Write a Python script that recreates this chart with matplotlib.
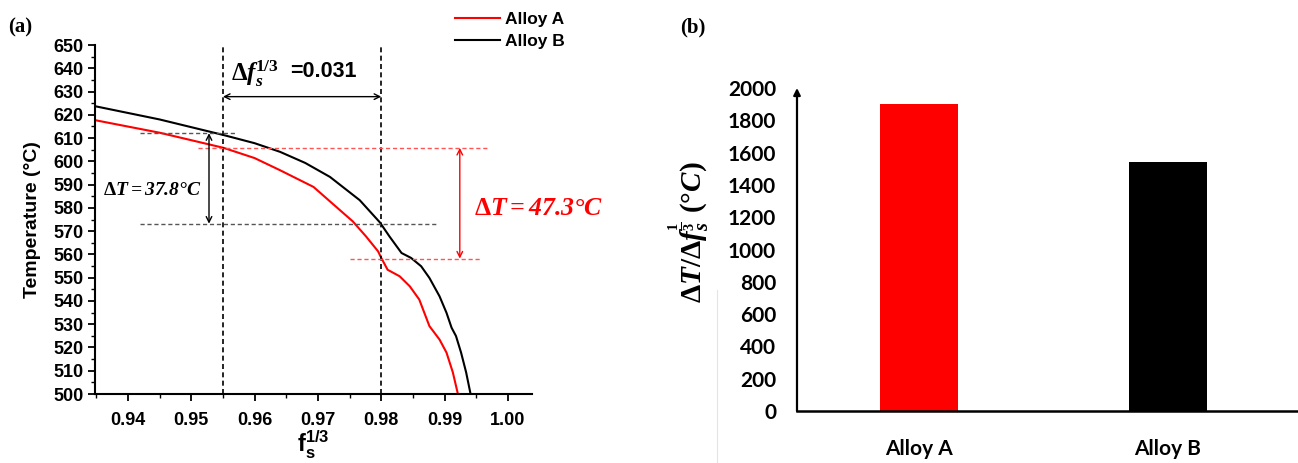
import numpy as np
import matplotlib
matplotlib.use("Agg")
from matplotlib import pyplot as plt
from matplotlib.lines import Line2D

plt.rcParams['font.family'] = 'Liberation Sans'
plt.rcParams['mathtext.fontset'] = 'custom'
plt.rcParams['mathtext.rm'] = 'Liberation Serif:bold'
plt.rcParams['mathtext.it'] = 'Liberation Serif:italic:bold'
plt.rcParams['mathtext.bf'] = 'Liberation Serif:bold'
plt.rcParams['mathtext.bfit'] = 'Liberation Serif:italic:bold'
plt.rcParams['mathtext.sf'] = 'Liberation Sans:bold'

# ---- data, panel (a) ----
fs_a = [0.9348, 0.9450, 0.9551, 0.9600, 0.9640, 0.9693, 0.9734, 0.9755, 0.9776, 0.9795,
        0.9800, 0.9810, 0.9829, 0.9845, 0.9860, 0.9876, 0.9892, 0.9903, 0.9913, 0.9921]
T_a = [617.7, 612.3, 605.8, 601.4, 596.2, 589.0, 579.2, 574.2, 567.7, 561.3,
       558.5, 553.4, 550.6, 546.3, 540.6, 529.2, 523.4, 517.8, 509.3, 500.0]

fs_b = [0.9348, 0.9450, 0.9551, 0.9600, 0.9640, 0.9680, 0.9719, 0.9766, 0.9798, 0.9813,
        0.9832, 0.9847, 0.9863, 0.9876, 0.9892, 0.9903, 0.9911, 0.9918, 0.9926, 0.9934,
        0.9941]
T_b = [623.7, 618.0, 611.3, 607.8, 604.1, 599.3, 593.3, 583.3, 573.7, 567.7,
       560.6, 558.5, 554.9, 549.9, 542.0, 534.9, 528.5, 524.9, 517.8, 509.3,
       500.0]

fs_lo, fs_hi = 0.955, 0.980
T_b_hi, T_b_lo = 612.1, 573.2
T_a_hi, T_a_lo = 605.8, 558.2

# ---- data, panel (b) ----
alloys = ['Alloy A', 'Alloy B']
ratio = [1900, 1540]
bar_colors = ['#ff0000', '#000000']

fig = plt.figure(figsize=(12.98, 4.63), dpi=100)

# ================= panel (a) =================
ax = fig.add_axes([95/1298, 1-394/463, (532-95)/1298, (394-45)/463])
ax.plot(fs_a, T_a, color='#ff0000', lw=1.5, label='Alloy A')
ax.plot(fs_b, T_b, color='black', lw=1.5, label='Alloy B')
ax.set_xlim(0.9348, 1.0038)
ax.set_ylim(500, 650)
ax.set_xticks(np.arange(0.94, 1.001, 0.01))
ax.set_xticks(np.arange(0.935, 1.004, 0.005), minor=True)
ax.set_yticks(np.arange(500, 651, 10))
ax.set_yticks(np.arange(500, 651, 5), minor=True)
ax.set_xticklabels(['%.2f' % v for v in np.arange(0.94, 1.001, 0.01)])
for s in ['top', 'right']:
    ax.spines[s].set_visible(False)
for s in ['left', 'bottom']:
    ax.spines[s].set_linewidth(1.5)
ax.tick_params(which='major', length=5, width=1.3, labelsize=13, pad=3)
ax.tick_params(which='minor', length=3, width=1.0)
for lab in ax.get_xticklabels() + ax.get_yticklabels():
    lab.set_fontweight('bold')
ax.tick_params(axis='x', pad=8)
ax.set_ylabel('Temperature (\u00b0C)', fontsize=14, fontweight='bold', labelpad=9)
ax.set_xlabel(r'$\mathsf{f_s^{1/3}}$', fontsize=17, labelpad=0)

# guide lines
ax.plot([fs_lo, fs_lo], [500, 650], ls=(0, (3, 2)), color='black', lw=1.2)
ax.plot([fs_hi, fs_hi], [500, 650], ls=(0, (3, 2)), color='black', lw=1.2)
ax.plot([0.9419, 0.9569], [T_b_hi, T_b_hi], ls=(0, (3, 2)), color='#555555', lw=1)
ax.plot([0.9419, 0.9888], [T_b_lo, T_b_lo], ls=(0, (3, 2)), color='#555555', lw=1)
ax.plot([0.9510, 0.9969], [T_a_hi, T_a_hi], ls=(0, (3, 2)), color='#ff5555', lw=1, clip_on=False)
ax.plot([0.9750, 0.9956], [T_a_lo, T_a_lo], ls=(0, (3, 2)), color='#ff5555', lw=1, clip_on=False)

ax.annotate('', xy=(fs_lo, 627.8), xytext=(fs_hi, 627.8),
            arrowprops=dict(arrowstyle='<->', lw=1, color='black', shrinkA=0, shrinkB=0))
ax.annotate('', xy=(0.9528, T_b_hi), xytext=(0.9528, T_b_lo),
            arrowprops=dict(arrowstyle='<->', lw=1, color='black', shrinkA=0, shrinkB=0))
ax.annotate('', xy=(0.9924, T_a_hi), xytext=(0.9924, T_a_lo),
            arrowprops=dict(arrowstyle='<->', lw=1, color='#ff0000', shrinkA=0, shrinkB=0),
            annotation_clip=False)

ax.text(0.9563, 637.5, r'$\mathbf{\Delta}\mathbfit{f}_{\mathbfit{s}}^{\mathbf{1/3}}$',
        fontsize=18, ha='left', va='center')
ax.text(0.9656, 638.4, '=0.031', fontsize=15.5, fontweight='bold', ha='left', va='center')
ax.text(0.9360, 587.6, r'$\mathbf{\Delta}\mathbfit{T = 37.8°C}$', fontsize=14,
        ha='left', va='center')
ax.text(0.9946, 580, r'$\mathbf{\Delta}\mathbfit{T = 47.3°C}$', fontsize=18.5,
        color='#ff0000', ha='left', va='center', clip_on=False)

leg = ax.legend(loc='upper left', bbox_to_anchor=(455/1298, 1-12/463),
                bbox_transform=fig.transFigure, frameon=False, handlelength=2.6,
                handletextpad=0.3, labelspacing=0.4, borderpad=0, borderaxespad=0,
                prop={'size': 12.5, 'weight': 'bold'})

fig.text(8/1298, 1-27/463, '(a)', fontsize=15, fontweight='bold', family='Liberation Serif',
         va='center', ha='left')

# ================= panel (b) =================
bx = fig.add_axes([797/1298, 1-411/463, (1300-797)/1298, (411-88)/463])
xpos = np.arange(len(alloys))
bx.bar(xpos, ratio, width=0.314, color=bar_colors)
bx.set_xlim(-0.491, 1.533)
bx.set_ylim(0, 2000)
bx.set_yticks(np.arange(0, 2001, 200))
bx.set_xticks(xpos)
bx.set_xticklabels(alloys)
for s in ['top', 'right', 'left']:
    bx.spines[s].set_visible(False)
bx.spines['bottom'].set_linewidth(1.8)
bx.tick_params(axis='y', length=0, pad=15, labelsize=15)
bx.tick_params(axis='x', length=0, pad=20, labelsize=15)
for lab in bx.get_xticklabels() + bx.get_yticklabels():
    lab.set_family('Lato')
    lab.set_fontweight('bold')
bx.annotate('', xy=(0, 1.0), xytext=(0, 0), xycoords='axes fraction',
            arrowprops=dict(arrowstyle='-|>', lw=1.6, color='black', shrinkA=0, shrinkB=0,
                            mutation_scale=10))
bx.set_ylabel(r'$\mathbf{\Delta}\mathbfit{T}/\mathbf{\Delta}\mathbfit{f}_{\mathbfit{s}}^{\mathbf{\frac{1}{3}}}\ \mathbf{(°}\mathbfit{C}\mathbf{)}$',
              fontsize=21)
bx.yaxis.set_label_coords(-0.17, 0.554)

fig.text(680/1298, 1-27/463, '(b)', fontsize=15, fontweight='bold', family='Liberation Serif',
         va='center', ha='left')
fig.add_artist(Line2D([717/1298, 717/1298], [0, 1-290/463], color='#e4e4e4', lw=0.8))

fig.savefig('out.png', dpi=100)
